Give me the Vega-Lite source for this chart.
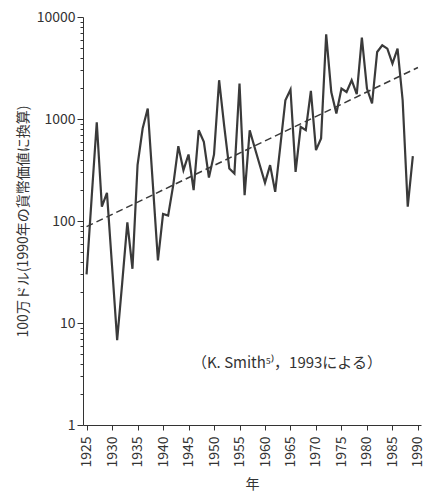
{
  "$schema": "https://vega.github.io/schema/vega-lite/v6.json",
  "width": 338,
  "height": 408,
  "autosize": {"type": "none"},
  "padding": {"left": 83, "top": 17, "right": 7, "bottom": 69},
  "background": "white",
  "config": {
    "view": {"stroke": null},
    "font": "Noto Sans CJK JP",
    "axis": {
      "labelFont": "Noto Sans CJK JP",
      "titleFont": "Noto Sans CJK JP",
      "labelColor": "#333",
      "titleColor": "#333",
      "domainColor": "#333",
      "tickColor": "#333",
      "grid": false,
      "titleFontWeight": "normal"
    }
  },
  "datasets": {
    "series": [
      {"year": 1925, "value": 30},
      {"year": 1926, "value": 170},
      {"year": 1927, "value": 930},
      {"year": 1928, "value": 138},
      {"year": 1929, "value": 189},
      {"year": 1930, "value": 36},
      {"year": 1931, "value": 6.8},
      {"year": 1932, "value": 25},
      {"year": 1933, "value": 97},
      {"year": 1934, "value": 34},
      {"year": 1935, "value": 353},
      {"year": 1936, "value": 807},
      {"year": 1937, "value": 1267},
      {"year": 1938, "value": 230},
      {"year": 1939, "value": 41},
      {"year": 1940, "value": 117},
      {"year": 1941, "value": 113},
      {"year": 1942, "value": 225},
      {"year": 1943, "value": 542},
      {"year": 1944, "value": 315},
      {"year": 1945, "value": 449},
      {"year": 1946, "value": 201},
      {"year": 1947, "value": 776},
      {"year": 1948, "value": 597},
      {"year": 1949, "value": 267},
      {"year": 1950, "value": 450},
      {"year": 1951, "value": 2400},
      {"year": 1952, "value": 850},
      {"year": 1953, "value": 327},
      {"year": 1954, "value": 292},
      {"year": 1955, "value": 2228},
      {"year": 1956, "value": 179},
      {"year": 1957, "value": 776},
      {"year": 1958, "value": 520},
      {"year": 1959, "value": 350},
      {"year": 1960, "value": 237},
      {"year": 1961, "value": 353},
      {"year": 1962, "value": 193},
      {"year": 1963, "value": 540},
      {"year": 1964, "value": 1528},
      {"year": 1965, "value": 1945},
      {"year": 1966, "value": 303},
      {"year": 1967, "value": 837},
      {"year": 1968, "value": 776},
      {"year": 1969, "value": 1885},
      {"year": 1970, "value": 495},
      {"year": 1971, "value": 644},
      {"year": 1972, "value": 6770},
      {"year": 1973, "value": 1840},
      {"year": 1974, "value": 1132},
      {"year": 1975, "value": 1990},
      {"year": 1976, "value": 1840},
      {"year": 1977, "value": 2400},
      {"year": 1978, "value": 1750},
      {"year": 1979, "value": 6280},
      {"year": 1980, "value": 1990},
      {"year": 1981, "value": 1419},
      {"year": 1982, "value": 4540},
      {"year": 1983, "value": 5280},
      {"year": 1984, "value": 4900},
      {"year": 1985, "value": 3500},
      {"year": 1986, "value": 4900},
      {"year": 1987, "value": 1528},
      {"year": 1988, "value": 138},
      {"year": 1989, "value": 432}
    ],
    "trend": [
      {"year": 1925, "value": 88},
      {"year": 1990, "value": 3200}
    ],
    "note": [
      {"year": 1964.3, "value": 4.06, "label": "（K. Smith⁵⁾，1993による）"}
    ]
  },
  "encoding": {
    "x": {
      "field": "year", "type": "quantitative",
      "scale": {"domain": [1924.3, 1990.6], "nice": false, "zero": false},
      "axis": {
        "values": [1925, 1930, 1935, 1940, 1945, 1950, 1955, 1960, 1965, 1970, 1975, 1980, 1985, 1990],
        "format": "d",
        "labelAngle": -90,
        "labelFontSize": 14,
        "labelPadding": 6,
        "tickSize": 5,
        "title": "年",
        "titleFontSize": 14,
        "titlePadding": 10
      }
    },
    "y": {
      "field": "value", "type": "quantitative",
      "scale": {"type": "log", "domain": [1, 10000], "nice": false},
      "axis": {
        "orient": "left",
        "values": [1, 2, 3, 4, 5, 6, 7, 8, 9, 10, 20, 30, 40, 50, 60, 70, 80, 90, 100, 200, 300, 400, 500, 600, 700, 800, 900, 1000, 2000, 3000, 4000, 5000, 6000, 7000, 8000, 9000, 10000],
        "labelExpr": "indexof([1, 10, 100, 1000, 10000], datum.value) >= 0 ? format(datum.value, 'd') : ''",
        "labelFontSize": 14,
        "labelPadding": 2,
        "tickSize": {"condition": {"test": "indexof([1, 10, 100, 1000, 10000], datum.value) >= 0", "value": 6}, "value": 3},
        "labelOverlap": false,
        "title": "100万ドル(1990年の貨幣価値に換算)",
        "titleFontSize": 14,
        "titlePadding": 6
      }
    }
  },
  "layer": [
    {
      "data": {"name": "series"},
      "mark": {"type": "line", "color": "#3a3a3a", "strokeWidth": 2.2, "strokeJoin": "miter", "clip": true}
    },
    {
      "data": {"name": "trend"},
      "mark": {"type": "line", "color": "#3a3a3a", "strokeWidth": 1.5, "strokeDash": [7, 4]}
    },
    {
      "data": {"name": "note"},
      "mark": {"type": "text", "fontSize": 15, "color": "#333", "align": "center", "baseline": "middle", "font": "Noto Sans CJK JP"},
      "encoding": {"text": {"field": "label"}}
    }
  ]
}
